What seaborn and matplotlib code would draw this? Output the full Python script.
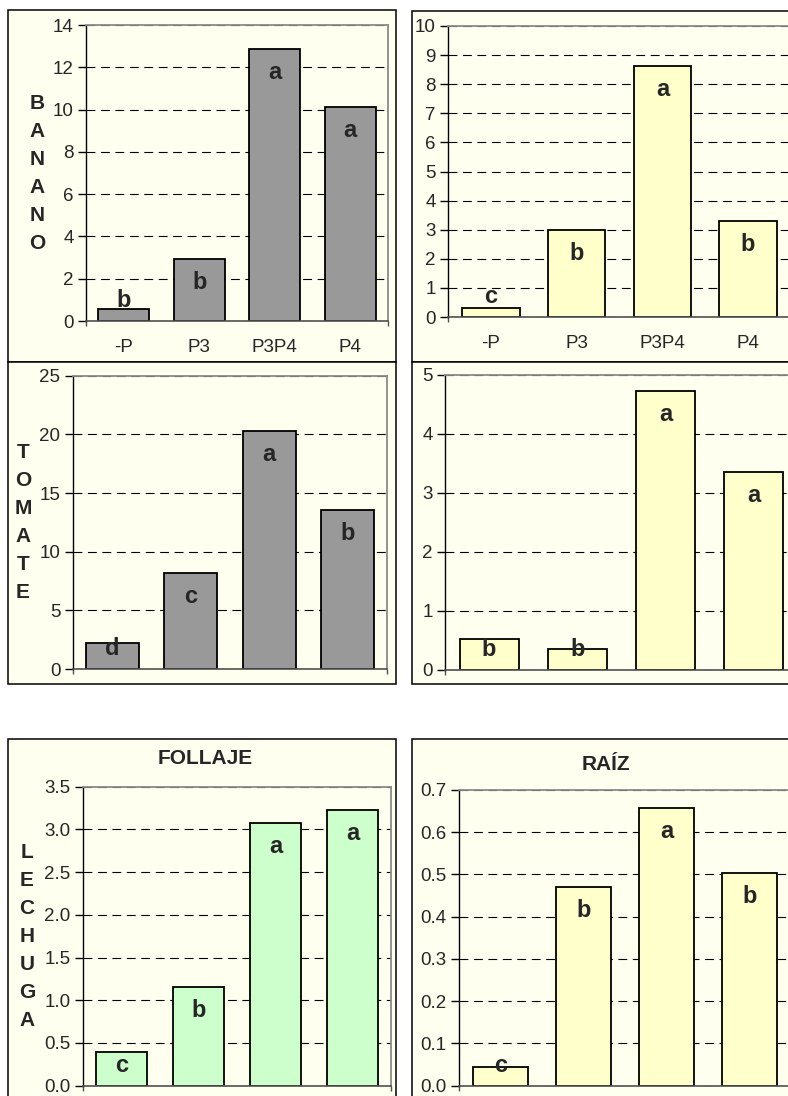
import numpy as np
import seaborn as sns
import matplotlib.pyplot as plt
from matplotlib.patches import Rectangle

# Datos
categorias = ['-P', 'P3', 'P3P4', 'P4']

banano_follaje = [0.55, 2.92, 12.85, 10.1]
banano_follaje_letras = ['b', 'b', 'a', 'a']
banano_raiz = [0.30, 2.99, 8.64, 3.31]
banano_raiz_letras = ['c', 'b', 'a', 'b']

tomate_follaje = [2.19, 8.21, 20.3, 13.58]
tomate_follaje_letras = ['d', 'c', 'a', 'b']
tomate_raiz = [0.52, 0.36, 4.72, 3.35]
tomate_raiz_letras = ['b', 'b', 'a', 'a']

lechuga_follaje = [0.39, 1.155, 3.07, 3.23]
lechuga_follaje_letras = ['c', 'b', 'a', 'a']
lechuga_raiz = [0.045, 0.47, 0.658, 0.504]
lechuga_raiz_letras = ['c', 'b', 'a', 'b']

sns.set_style('white')
plt.rcParams['font.family'] = ['Liberation Sans', 'DejaVu Sans']

W, H = 788, 1096
fig = plt.figure(figsize=(W / 100, H / 100), dpi=100)
fondo = '#FFFFF0'


def caja(x0, y0, x1, y1):
    # marco exterior de cada gráfico (en píxeles, y hacia abajo)
    r = Rectangle((x0 / W, 1 - y1 / H), (x1 - x0) / W, (y1 - y0) / H,
                  transform=fig.transFigure, facecolor=fondo,
                  edgecolor='black', linewidth=1.1, zorder=-1)
    fig.patches.append(r)


caja(8, 10, 396, 362)
caja(412, 11, 805, 362)
caja(8, 362, 396, 684)
caja(412, 362, 805, 684)
caja(8, 739, 396, 1110)
caja(412, 739, 805, 1110)


def grafico(px, valores, letras, color, ymax, paso, fmt, etiquetas_x=True):
    x0, y0, x1, y1 = px
    ax = fig.add_axes([x0 / W, 1 - y1 / H, (x1 - x0) / W, (y1 - y0) / H])
    ax.set_facecolor(fondo)
    sns.barplot(x=categorias, y=valores, color=color, saturation=1,
                edgecolor='black', linewidth=1.3, width=0.67, ax=ax)
    ax.set_ylim(0, ymax)
    ax.set_xlim(-0.5, 3.5)
    ax.set_yticks(np.arange(0, ymax + paso / 2, paso))
    ax.yaxis.set_major_formatter(plt.FormatStrFormatter(fmt))
    ax.set_xlabel('')
    ax.set_ylabel('')
    ax.set_axisbelow(True)
    ax.yaxis.grid(True, color='black', linestyle=(0, (8, 5)), linewidth=0.8)
    for lado in ['top', 'right']:
        ax.spines[lado].set_color('#8a8a8a')
        ax.spines[lado].set_linewidth(1.3)
    ax.spines['left'].set_color('black')
    ax.spines['left'].set_linewidth(1.0)
    ax.spines['bottom'].set_color('#505050')
    ax.spines['bottom'].set_linewidth(1.2)
    ax.tick_params(axis='y', which='major', left=True, length=6, width=1,
                   pad=3, labelsize=13.5, color='black')
    ax.tick_params(axis='x', which='major', bottom=False, length=0, pad=13,
                   labelsize=13.5, labelbottom=etiquetas_x)
    ax.set_xticks([-0.5, 3.5], minor=True)
    ax.tick_params(axis='x', which='minor', bottom=True, length=3.5, width=1,
                   color='#505050')

    # letras de significancia
    base = ax.transData.transform((0, 0))[1]
    for i, (v, t) in enumerate(zip(valores, letras)):
        alto = ax.transData.transform((0, v))[1] - base
        off = max(alto - 23.5, 20.5) - 6.5
        ax.annotate(t, xy=(i, 0), xytext=(0, off), textcoords='offset pixels',
                    ha='center', va='baseline', fontsize=17,
                    fontweight='bold')
    return ax


gris = '#999999'
amarillo = '#FFFFCC'
verde = '#CCFFCC'

grafico((86, 25, 388, 321), banano_follaje, banano_follaje_letras, gris, 14, 2, '%d')
grafico((448, 26, 791, 317), banano_raiz, banano_raiz_letras, amarillo, 10, 1, '%d')
grafico((73, 375.7, 387, 669), tomate_follaje, tomate_follaje_letras, gris, 25, 5, '%d', False)
grafico((445, 374.7, 798, 670), tomate_raiz, tomate_raiz_letras, amarillo, 5, 1, '%d', False)
grafico((83, 786.7, 391, 1085.7), lechuga_follaje, lechuga_follaje_letras, verde, 3.5, 0.5, '%.1f', False)
grafico((459, 790, 791, 1085.7), lechuga_raiz, lechuga_raiz_letras, amarillo, 0.7, 0.1, '%.1f', False)

# títulos y nombres de cultivo
fig.text(205 / W, 1 - 758 / H, 'FOLLAJE', ha='center', va='center',
         fontsize=15, fontweight='bold')
fig.text(606 / W, 1 - 764 / H, 'RAÍZ', ha='center', va='center',
         fontsize=15, fontweight='bold')

for nombre, x, y in [('BANANO', 37, 174), ('TOMATE', 23, 522), ('LECHUGA', 27, 937)]:
    fig.text(x / W, 1 - y / H, '\n'.join(nombre), ha='center', va='center',
             fontsize=15, fontweight='bold', linespacing=1.6)

plt.savefig('out.png', dpi=100)
